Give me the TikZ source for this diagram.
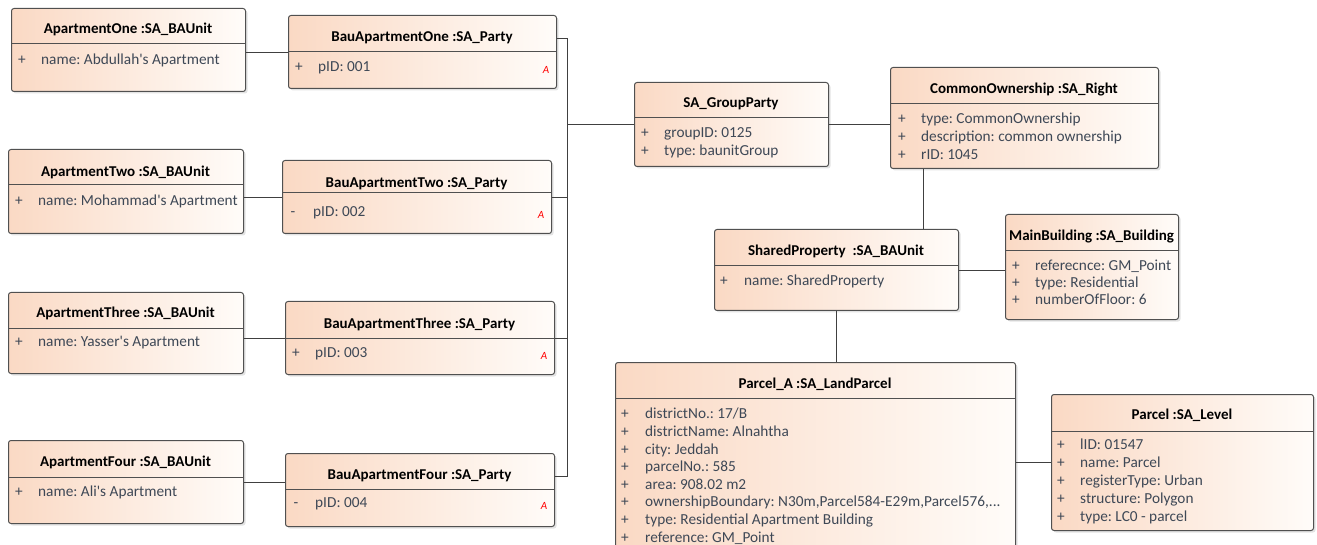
\documentclass[tikz,border=0pt]{standalone}
\usepackage{fontspec}
\setmainfont{Carlito}
\usetikzlibrary{shadows}
\frenchspacing

\definecolor{boxpeach}{RGB}{250,217,196}
\definecolor{boxwhite}{RGB}{255,252,249}
\definecolor{boxline}{RGB}{80,80,80}
\definecolor{attrtext}{RGB}{62,72,86}

\begin{document}
\begin{tikzpicture}[x=1pt,y=-1pt,
    classbox/.style={draw=boxline,line width=1pt,rounded corners=2.5pt,left color=boxpeach,right color=boxwhite,
        drop shadow={shadow xshift=2pt,shadow yshift=-2pt,opacity=0.22},anchor=north west,inner sep=0pt},
    ctitle/.style={anchor=mid,inner sep=0pt,yshift=-2.5pt,font=\fontsize{15}{18}\selectfont\bfseries},
    cvis/.style={anchor=mid,inner sep=0pt,yshift=-2.5pt,text=attrtext,font=\fontsize{15.3}{18}\selectfont},
    cattr/.style={anchor=mid west,inner sep=0pt,yshift=-2.5pt,text=attrtext,font=\fontsize{15.3}{18}\selectfont},
    abstr/.style={anchor=mid,inner sep=0pt,yshift=-1pt,text=red,font=\fontsize{11}{12}\selectfont\itshape},
    divider/.style={draw=boxline,line width=1pt},
    link/.style={draw=black!75,line width=0.9pt}]
    \useasboundingbox (0,0) rectangle (1317,545);
    \clip (0,0) rectangle (1317,545);

    \node[classbox,minimum width=234pt,minimum height=83pt] (a1) at (11,8) {};
    \node[ctitle] (a1t) at (128,29) {ApartmentOne :SA\_BAUnit};
    \draw[divider] (11,44) -- (245,44);
    \node[cvis] (a1v) at (22,60) {+};
    \node[cattr] (a1n) at (41,60) {name: Abdullah\textquotesingle s Apartment};

    \node[classbox,minimum width=268pt,minimum height=73pt] (b1) at (288,15) {};
    \node[ctitle] (b1t) at (422,37) {BauApartmentOne :SA\_Party};
    \draw[divider] (288,52) -- (556,52);
    \node[cvis] (b1v) at (299,67) {+};
    \node[cattr] (b1n) at (318,67) {pID: 001};
    \node[abstr] (b1a) at (546,70) {A};

    \node[classbox,minimum width=235pt,minimum height=84pt] (a2) at (8,149) {};
    \node[ctitle] (a2t) at (125.5,172) {ApartmentTwo :SA\_BAUnit};
    \draw[divider] (8,185) -- (243,185);
    \node[cvis] (a2v) at (19,201) {+};
    \node[cattr] (a2n) at (38,201) {name: Mohammad\textquotesingle s Apartment};

    \node[classbox,minimum width=269pt,minimum height=73pt] (b2) at (282,160) {};
    \node[ctitle] (b2t) at (416.5,183) {BauApartmentTwo :SA\_Party};
    \draw[divider] (282,193) -- (551,193);
    \node[cvis] (b2v) at (293,212) {-};
    \node[cattr] (b2n) at (313,212) {pID: 002};
    \node[abstr] (b2a) at (541,215) {A};

    \node[classbox,minimum width=235pt,minimum height=81pt] (a3) at (8,292) {};
    \node[ctitle] (a3t) at (125.5,313) {ApartmentThree :SA\_BAUnit};
    \draw[divider] (8,328) -- (243,328);
    \node[cvis] (a3v) at (19,342) {+};
    \node[cattr] (a3n) at (38,342) {name: Yasser\textquotesingle s Apartment};

    \node[classbox,minimum width=269pt,minimum height=73pt] (b3) at (285,301) {};
    \node[ctitle] (b3t) at (419.5,324) {BauApartmentThree :SA\_Party};
    \draw[divider] (285,338) -- (554,338);
    \node[cvis] (b3v) at (296,353) {+};
    \node[cattr] (b3n) at (315,353) {pID: 003};
    \node[abstr] (b3a) at (544,356) {A};

    \node[classbox,minimum width=235pt,minimum height=83pt] (a4) at (8,440) {};
    \node[ctitle] (a4t) at (125.5,462) {ApartmentFour :SA\_BAUnit};
    \draw[divider] (8,477) -- (243,477);
    \node[cvis] (a4v) at (19,492) {+};
    \node[cattr] (a4n) at (38,492) {name: Ali\textquotesingle s Apartment};

    \node[classbox,minimum width=269pt,minimum height=73pt] (b4) at (285,453) {};
    \node[ctitle] (b4t) at (419.5,475) {BauApartmentFour :SA\_Party};
    \draw[divider] (285,489) -- (554,489);
    \node[cvis] (b4v) at (296,503) {-};
    \node[cattr] (b4n) at (315,503) {pID: 004};
    \node[abstr] (b4a) at (544,506) {A};

    \node[classbox,minimum width=194pt,minimum height=84pt] (gp) at (634,82) {};
    \node[ctitle] (gpt) at (731,103) {SA\_GroupParty};
    \draw[divider] (634,118) -- (828,118);
    \node[cvis] (gpv1) at (645,133) {+};
    \node[cattr] (gpn1) at (664,133) {groupID: 0125};
    \node[cvis] (gpv2) at (645,151) {+};
    \node[cattr] (gpn2) at (664,151) {type: baunitGroup};

    \node[classbox,minimum width=268pt,minimum height=101pt] (co) at (890,67) {};
    \node[ctitle] (cot) at (1024,89) {CommonOwnership :SA\_Right};
    \draw[divider] (890,104) -- (1158,104);
    \foreach \txt [count=\i] in {type: CommonOwnership,description: common ownership,rID: 1045}{
        \node[cvis] (cov\i) at (902,101+18*\i) {+};
        \node[cattr] (con\i) at (921,101+18*\i) {\txt};
    }

    \node[classbox,minimum width=244pt,minimum height=81pt] (sp) at (714,229) {};
    \node[ctitle] (spt) at (836,251) {SharedProperty\ \ :SA\_BAUnit};
    \draw[divider] (714,266) -- (958,266);
    \node[cvis] (spv) at (724,281) {+};
    \node[cattr] (spn) at (744,281) {name: SharedProperty};

    \node[classbox,minimum width=173pt,minimum height=105pt] (mb) at (1005,214) {};
    \node[ctitle] (mbt) at (1091.5,236) {MainBuilding :SA\_Building};
    \draw[divider] (1005,251) -- (1178,251);
    \foreach \txt [count=\i] in {referecnce: GM\_Point,type: Residential,numberOfFloor: 6}{
        \node[cvis] (mbv\i) at (1016,249+17*\i) {+};
        \node[cattr] (mbn\i) at (1035,249+17*\i) {\txt};
    }

    \node[classbox,minimum width=400pt,minimum height=200pt] (pa) at (615,362) {};
    \node[ctitle] (pat) at (815,384) {Parcel\_A :SA\_LandParcel};
    \draw[divider] (615,398) -- (1015,398);
    \foreach \txt [count=\i] in {districtNo.: 17/B,districtName: Alnahtha,city: Jeddah,parcelNo.: 585,area: 908.02 m2,
        {ownershipBoundary: N30m,Parcel584-E29m,Parcel576,.{}.{}.},type: Residential Apartment Building,reference: GM\_Point}{
        \node[cvis] (pav\i) at (625,396.4+17.6*\i) {+};
        \node[cattr] (pan\i) at (645,396.4+17.6*\i) {\txt};
    }

    \node[classbox,minimum width=262pt,minimum height=136pt] (pl) at (1051,394) {};
    \node[ctitle] (plt) at (1182,415) {Parcel :SA\_Level};
    \draw[divider] (1051,431) -- (1313,431);
    \foreach \txt [count=\i] in {lID: 01547,name: Parcel,registerType: Urban,structure: Polygon,type: LC0 - parcel}{
        \node[cvis] (plv\i) at (1061,427.2+17.8*\i) {+};
        \node[cattr] (pln\i) at (1080,427.2+17.8*\i) {\txt};
    }

    \coordinate (bus) at (567,0);
    \coordinate (cs) at (923,0);
    \draw[link] (a1.east |- b1.west) -- (b1.west);
    \draw[link] (a2.east |- b2.west) -- (b2.west);
    \draw[link] (a3.east |- b3.west) -- (b3.west);
    \draw[link] (a4.east) -- (a4.east -| b4.west);
    \draw[link] (b1t -| b1.east) -- (b1t -| bus) -- (b4t -| bus) -- (b4t -| b4.east);
    \draw[link] (b2.east) -- (b2.east -| bus);
    \draw[link] (b3.east) -- (b3.east -| bus);
    \draw[link] (gp.west -| bus) -- (gp.west);
    \draw[link] (gp.east) -- (gp.east -| co.west);
    \draw[link] (cs |- co.south) -- (cs |- sp.north);
    \draw[link] (sp.east) -- (sp.east -| mb.west);
    \draw[link] (sp.south) -- (sp.south |- pa.north);
    \draw[link] (pl.west -| pa.east) -- (pl.west);
\end{tikzpicture}
\end{document}
